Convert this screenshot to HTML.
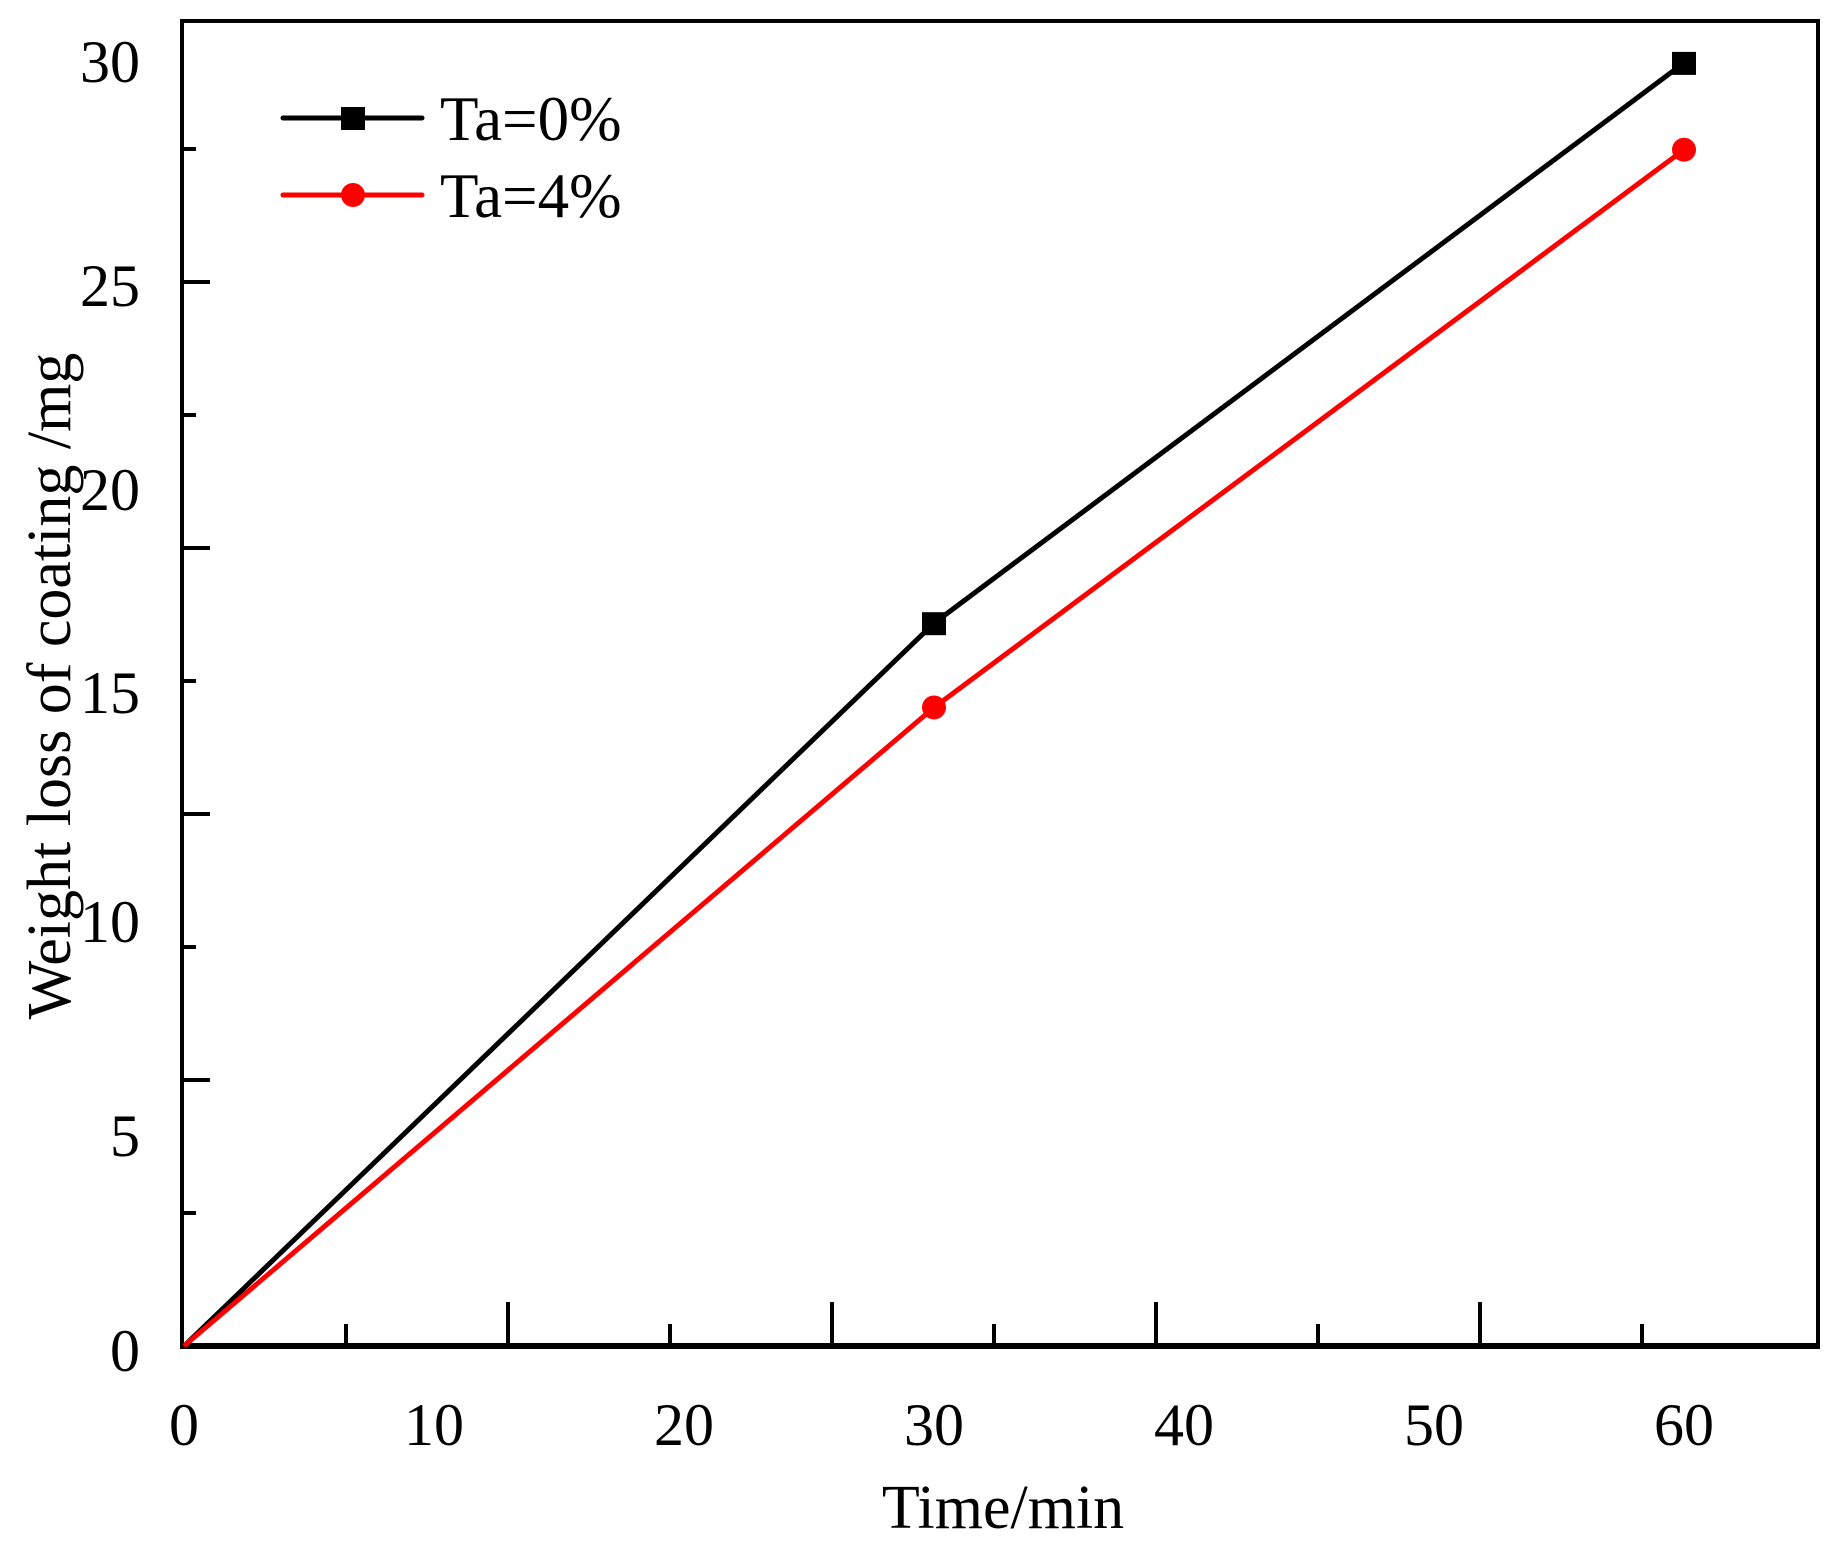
<!DOCTYPE html>
<html><head><meta charset="utf-8"><style>body{margin:0;background:#fff}svg{display:block}text{font-family:"Liberation Serif",serif;fill:#000}</style></head>
<body>
<svg id="c" width="1836" height="1546" xmlns="http://www.w3.org/2000/svg">
<rect x="182" y="21" width="1636" height="1325" fill="none" stroke="#000" stroke-width="4"/>
<line x1="180" y1="1346" x2="1820" y2="1346" stroke="#000" stroke-width="6"/>
<g id="ticks"></g>
<g font-size="60" text-anchor="end">
<text x="140" y="1371">0</text>
<text x="140" y="1156">5</text>
<text x="140" y="942">10</text>
<text x="140" y="713">15</text>
<text x="140" y="510">20</text>
<text x="140" y="306">25</text>
<text x="140" y="82">30</text>
</g>
<g id="xl" font-size="60" text-anchor="middle"></g>
<text x="1003" y="1528" font-size="62" text-anchor="middle">Time/min</text>
<text transform="translate(70,686) rotate(-90)" font-size="62" text-anchor="middle">Weight loss of coating /mg</text>
<g id="series"></g>
<g>
<line x1="283" y1="118" x2="422" y2="118" stroke="#000" stroke-width="5" stroke-linecap="round"/>
<rect x="341" y="107" width="24" height="23" fill="#000"/>
<text x="440" y="140" font-size="63">Ta=0%</text>
<line x1="283" y1="195" x2="422" y2="195" stroke="#f00" stroke-width="5" stroke-linecap="round"/>
<circle cx="353" cy="195" r="12" fill="#f00"/>
<text x="440" y="217" font-size="63">Ta=4%</text>
</g>
</svg>
<script>
const times=[0,30,60];
const ta0=[0,16.9,30];
const ta4=[0,14.93,27.97];
const xLabels=[0,10,20,30,40,50,60];
const NS="http://www.w3.org/2000/svg";
const X=v=>184+v*25.0, Y=v=>1346-v*42.77;
function mk(t,a,p){const e=document.createElementNS(NS,t);for(const k in a)e.setAttribute(k,a[k]);p.appendChild(e);return e;}
const tk=document.getElementById('ticks');
for(let k=1;k<=9;k++){const l=mk('line',{x1:184+k*162,x2:184+k*162,y1:1346,y2:k%2?1324:1302,stroke:'#000','stroke-width':4},tk);

}
for(let k=1;k<=9;k++){const l=mk('line',{x1:182,x2:k%2?196:210,y1:1346-k*133,y2:1346-k*133,stroke:'#000','stroke-width':4},tk);

}
const xl=document.getElementById('xl');
xLabels.forEach((v,i)=>{const t=mk('text',{x:X(v),y:1445},xl);t.textContent=v;

});
const sg=document.getElementById('series');
function series(vals,col,sq,name){
const p=mk('polyline',{points:times.map((t,i)=>X(t)+','+Y(vals[i])).join(' '),fill:'none',stroke:col,'stroke-width':5},sg);


times.forEach((t,i)=>{if(i===0)return;let m;
if(sq)m=mk('rect',{x:X(t)-12,y:Y(vals[i])-11,width:24,height:23,fill:col},sg);
else m=mk('circle',{cx:X(t),cy:Y(vals[i]),r:12,fill:col},sg);

});}
series(ta0,'#000',true,'ta0');
series(ta4,'#f00',false,'ta4');
</script>
</body></html>
